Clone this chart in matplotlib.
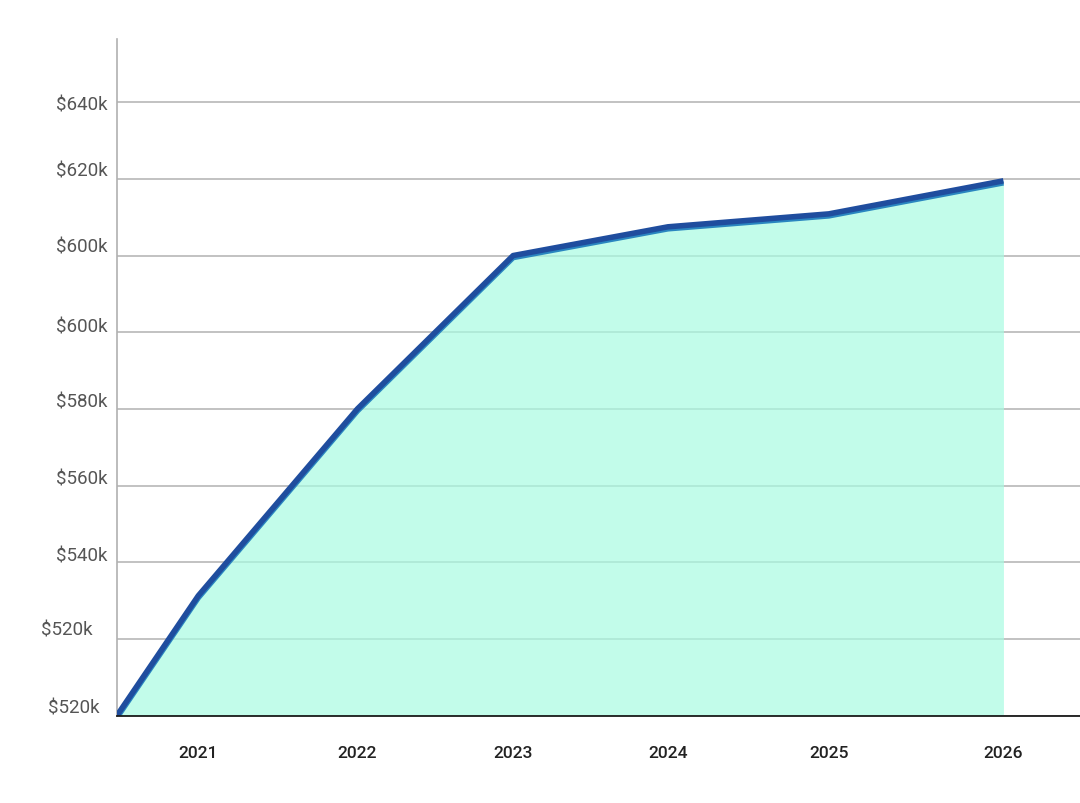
import matplotlib.pyplot as plt
import matplotlib.dates as mdates
import matplotlib.transforms as mtrans
import numpy as np

plt.rcParams['font.family'] = ['Roboto', 'DejaVu Sans']

# data
dates = np.array(['2020-06-26', '2021-01-01', '2022-01-06', '2023-01-03',
                  '2023-12-29', '2025-01-06', '2026-02-16'], dtype='datetime64[D]')
values = [512.0, 537.0, 576.0, 608.0, 614.0, 616.7, 623.6]   # $k
year_labels = ['2021', '2022', '2023', '2024', '2025', '2026']
y_ticks = [512, 528, 544, 560, 576, 592, 608, 624, 640]
y_labels = ['$520k', '$520k', '$540k', '$560k', '$580k', '$600k', '$600k', '$620k', '$640k']

x = mdates.date2num(dates)

fig = plt.figure(figsize=(10.8, 8.04), dpi=100)
ax = fig.add_axes([117/1080, 1 - 716.5/804, 1 - 117/1080, (716.5 - 40)/804])

ax.fill_between(x, values, 512, color='#a8fbe2', alpha=0.7, lw=0, zorder=2)

# light blue edge a little below, dark blue line on top
shift = mtrans.offset_copy(ax.transData, fig=fig, x=0, y=-2, units='dots')
ax.plot(x, values, color='#2a86c0', lw=4, transform=shift, zorder=3,
        solid_capstyle='butt', solid_joinstyle='round')
ax.plot(x, values, color='#1f4d9e', lw=4, zorder=4,
        solid_capstyle='butt', solid_joinstyle='round')

ax.set_xlim(x[0], mdates.date2num(np.datetime64('2026-08-13')))
ax.set_ylim(512, 653.2)

ax.set_yticks(y_ticks)
ax.set_yticklabels(y_labels)
ax.set_xticks(x[1:])
ax.set_xticklabels(year_labels)

ax.grid(axis='y', color='#b8b8b8', lw=1.2, zorder=1)
ax.set_axisbelow(True)

for s in ['top', 'right']:
    ax.spines[s].set_visible(False)
ax.spines['left'].set_color('#b0b0b0')
ax.spines['left'].set_linewidth(1.2)
ax.spines['bottom'].set_color('#1a1a1a')
ax.spines['bottom'].set_linewidth(1.3)
ax.spines['bottom'].set_zorder(5)

ax.tick_params(axis='y', length=0, pad=7, labelsize=13.5, labelcolor='#555555')
ax.tick_params(axis='x', length=0, pad=21, labelsize=12.5, labelcolor='#222222')
for lab in ax.get_xticklabels():
    lab.set_fontweight('medium')

# labels sit a bit off their gridlines in the original
offsets = [(-8, 10), (-15, 11), (0, 9), (0, 9), (0, 9), (0, 8), (0, 11), (0, 10), (0, 0)]
for lab, (dx, dy) in zip(ax.get_yticklabels(), offsets):
    lab.set_transform(lab.get_transform() + mtrans.ScaledTranslation(dx/100, dy/100, fig.dpi_scale_trans))

fig.savefig('out.png', dpi=100)
